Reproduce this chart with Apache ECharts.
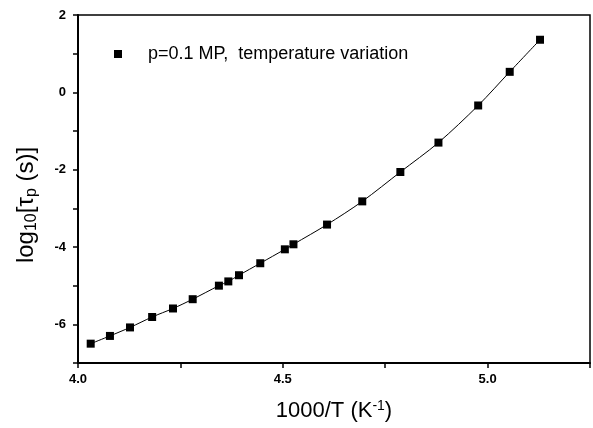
<!DOCTYPE html>
<html>
<head>
<meta charset="utf-8">
<script src="https://cdn.jsdelivr.net/npm/echarts@6/dist/echarts.min.js"></script>
<style>html,body{margin:0;padding:0;background:#fff}#c{width:593px;height:428px}</style>
</head>
<body>
<div id="c"></div>
<script>
const invT = [4.031, 4.078, 4.127, 4.181, 4.232, 4.280, 4.344, 4.367, 4.393, 4.445, 4.505, 4.526, 4.608, 4.694, 4.787, 4.880, 4.977, 5.054, 5.128];
const logTau = [-6.50, -6.30, -6.08, -5.81, -5.59, -5.35, -5.00, -4.89, -4.73, -4.42, -4.06, -3.93, -3.42, -2.82, -2.06, -1.30, -0.34, 0.53, 1.36];
const xLabels = ['4.0', '4.5', '5.0'];
const yLabels = ['2', '0', '-2', '-4', '-6'];
const seriesName = 'p=0.1 MP,  temperature variation';

const chart = echarts.init(document.getElementById('c'), null, {renderer: 'canvas'});
const font = 'Liberation Sans, Arial, sans-serif';
chart.setOption({
  animation: false,
  grid: {left: 78, right: 2, top: 15, bottom: 65, show: true, borderColor: '#000', borderWidth: 1.5, backgroundColor: 'transparent'},
  legend: {
    data: [{name: seriesName, icon: 'rect'}],
    left: 109, top: 40, itemWidth: 8, itemHeight: 8,
    textStyle: {fontFamily: font, fontSize: 18, color: '#000', padding: [0, 0, 0, 21]}
  },
  xAxis: {
    type: 'value', min: 4.0, max: 5.25, interval: 0.25,
    axisLine: {onZero: false, lineStyle: {color: '#000', width: 2}},
    axisTick: {inside: false, length: 5, lineStyle: {color: '#000', width: 1.5}},
    splitLine: {show: false},
    axisLabel: {
      fontFamily: font, fontSize: 13, fontWeight: 'bold', color: '#000', margin: 10,
      formatter: v => { const s = v.toFixed(1); return (xLabels.includes(s) && Math.abs(v*2 - Math.round(v*2)) < 1e-6) ? s : ''; }
    },
    name: '1000/T (K{sup|-1})', nameLocation: 'middle', nameGap: 36,
    nameTextStyle: {fontFamily: font, fontSize: 22, color: '#000',
      rich: {sup: {fontFamily: font, fontSize: 14, color: '#000', verticalAlign: 'top', padding: [0, 0, 9, 0]}}}
  },
  yAxis: {
    type: 'value', min: -7, max: 2, interval: 1,
    axisLine: {onZero: false, lineStyle: {color: '#000', width: 2}},
    axisTick: {inside: false, length: 5, lineStyle: {color: '#000', width: 1.5}},
    splitLine: {show: false},
    axisLabel: {
      fontFamily: font, fontSize: 13, fontWeight: 'bold', color: '#000', margin: 12,
      formatter: v => yLabels.includes(String(v)) ? String(v) : ''
    },
    name: 'log{sub|10}[τ{sub|p} (s)]', nameLocation: 'middle', nameGap: 38, nameRotate: 90,
    nameTextStyle: {fontFamily: font, fontSize: 24, color: '#000', padding: [0, 32, 0, 0],
      rich: {sub: {fontFamily: font, fontSize: 16, color: '#000', padding: [12, 0, 0, 0]}}}
  },
  series: [{
    name: seriesName, type: 'line', smooth: 0.3,
    data: invT.map((x, i) => [x, logTau[i]]),
    symbol: 'rect', symbolSize: 8,
    itemStyle: {color: '#000'},
    lineStyle: {color: '#000', width: 1}
  }]
});
</script>
</body>
</html>
